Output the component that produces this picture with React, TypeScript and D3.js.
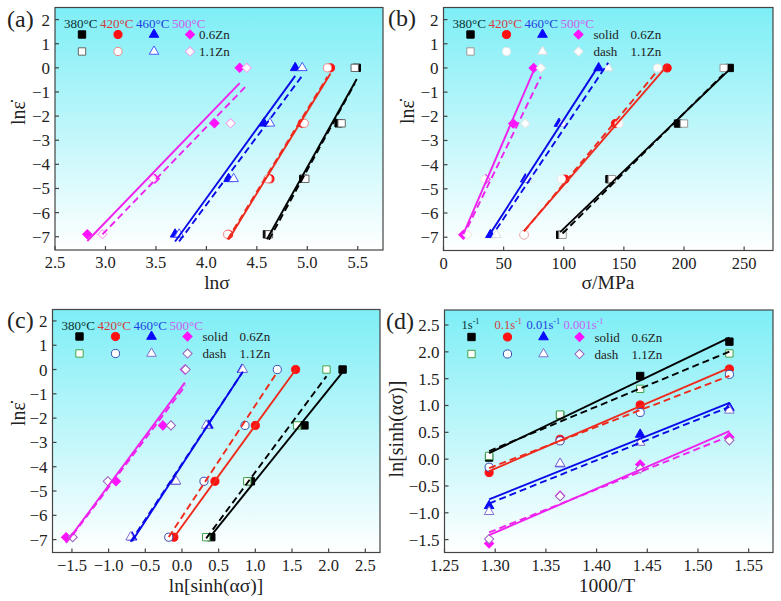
import * as d3 from 'd3'

const font = '"Liberation Serif", "Times New Roman", serif'

// ln(strain rate) levels: 1, 0.1, 0.01, 0.001 s^-1
const strainLn = [0, -2.3, -4.6, -6.9]
const tempLabels = ['380°C', '420°C', '460°C', '500°C']
const rateLabels = ['1', '0.1', '0.01', '0.001']
// 1000/T for 380, 420, 460, 500 °C
const invT = [1.531, 1.443, 1.364, 1.294]

// (a) lnσ, rows = temperature, cols = strain rate
const lnSigma06 = [
  [5.49, 5.31, 4.96, 4.6],
  [5.23, 4.95, 4.63, 4.22],
  [4.88, 4.57, 4.22, 3.69],
  [4.33, 4.08, 3.49, 2.82],
]
const lnSigma11 = [
  [5.47, 5.34, 4.98, 4.62],
  [5.2, 4.97, 4.61, 4.21],
  [4.95, 4.63, 4.27, 3.73],
  [4.4, 4.24, 3.47, 2.97],
]

// (b) σ / MPa
const sigma06 = [
  [238, 195, 138, 97],
  [186, 143, 101, 67],
  [129, 96, 68, 39],
  [75, 58, 35, 16.5],
]
const sigma11 = [
  [233, 200, 140, 99],
  [178, 146, 98, 67],
  [137, 99, 70, 44],
  [81, 68, 34, 20],
]

// (c) ln[sinh(ασ)]
const sinh06 = [
  [2.19, 1.67, 0.94, 0.4],
  [1.55, 1.0, 0.45, -0.11],
  [0.82, 0.36, -0.09, -0.68],
  [0.04, -0.26, -0.9, -1.58],
]
const sinh11 = [
  [1.97, 1.57, 0.89, 0.33],
  [1.3, 0.86, 0.3, -0.18],
  [0.83, 0.33, -0.08, -0.7],
  [0.05, -0.15, -1.01, -1.49],
]

// (d) ln[sinh(ασ)], rows = strain rate, cols = invT
const sinhD06 = [
  [2.19, 1.55, 0.82, 0.03],
  [1.68, 1.01, 0.37, -0.25],
  [0.96, 0.46, -0.09, -0.87],
  [0.41, -0.1, -0.68, -1.57],
]
const sinhD11 = [
  [1.97, 1.31, 0.83, 0.06],
  [1.58, 0.87, 0.34, -0.15],
  [0.91, 0.31, -0.08, -0.98],
  [0.35, -0.18, -0.69, -1.49],
]

const fillColors = ['#000000', '#ff1010', '#0a0aff', '#ff12ff']
const lineColors = ['#000000', '#ee2a1c', '#0a0ae8', '#ee22ee']
const headColors = ['#0b3030', '#d23c3c', '#1f3fe0', '#c95ef0']
const openA = ['#666666', '#f08a8a', '#4a5aff', '#f2a2f2']
const openB = ['#999999', '#e6e6e6', '#dddddd', '#e6e6e6']
const openCD = ['#3fa34a', '#3a4ab0', '#8070d0', '#9a60c0']

type Pt = [number, number]

function fitLine(pts: Pt[]): Pt[] {
  const mx = d3.mean(pts, p => p[0])!
  const my = d3.mean(pts, p => p[1])!
  const sxy = d3.sum(pts, p => (p[0] - mx) * (p[1] - my))
  const sxx = d3.sum(pts, p => (p[0] - mx) ** 2)
  const k = sxy / sxx
  const [x0, x1] = d3.extent(pts, p => p[0]) as [number, number]
  return [[x0, my + k * (x0 - mx)], [x1, my + k * (x1 - mx)]]
}

const symbols = [d3.symbolSquare, d3.symbolCircle, d3.symbolTriangle, d3.symbolSquare]
const symSize = [54, 52, 40, 42]

function Marker({ kind, x, y, fill, stroke }: { kind: number; x: number; y: number; fill: string; stroke: string }) {
  const d = d3.symbol().type(symbols[kind]).size(symSize[kind])()!
  const rot = kind === 3 ? ' rotate(45)' : ''
  return <path d={d} transform={`translate(${x},${y})${rot}`} fill={fill} stroke={stroke} strokeWidth={1} />
}

const minus = (s: string) => s.replace('-', '\u2212')

type Box = { l: number; r: number; t: number; b: number }

interface PanelProps {
  id: string
  box: Box
  xDomain: [number, number]
  yDomain: [number, number]
  xTicks: number[]
  yTicks: number[]
  xFmt: (v: number) => string
  yFmt: (v: number) => string
  solid: Pt[][]
  dash: Pt[][]
  openStroke: string[]
  label: string
  labelX: number
  labelY: number
  xTitle: string
  xTitleX: number
  xTitleY: number
  yTitle: string
  yTitleX: number
  yTitleY: number
  legend: 'a' | 'b' | 'd'
}

function Panel(p: PanelProps) {
  const { box } = p
  const x = d3.scaleLinear().domain(p.xDomain).range([box.l, box.r])
  const y = d3.scaleLinear().domain(p.yDomain).range([box.b, box.t])
  const line = d3.line<Pt>().x(d => x(d[0])).y(d => y(d[1]))
  const mx = [27, 63, 99, 135]
  const row1 = box.t + 27
  const row2 = box.t + 44
  const headX = p.legend === 'd' ? [17, 50, 82, 119] : [9, 45, 81, 117]
  const textX = p.legend === 'a' ? 144 : 150

  return (
    <g>
      <defs>
        <linearGradient id={`bg-${p.id}`} x1="0" y1="0" x2="0" y2="1">
          <stop offset="0%" stopColor="#7eeef6" />
          <stop offset="100%" stopColor="#ffffff" />
        </linearGradient>
        <clipPath id={`clip-${p.id}`}>
          <rect x={box.l} y={box.t} width={box.r - box.l} height={box.b - box.t} />
        </clipPath>
      </defs>
      <rect x={box.l} y={box.t} width={box.r - box.l} height={box.b - box.t} fill={`url(#bg-${p.id})`} />

      {/* legend */}
      {p.legend === 'd'
        ? rateLabels.map((r, i) => (
            <text key={r} x={box.l + headX[i]} y={box.t + 19} fontSize={12.5} fill={headColors[i]} fontFamily={font}>
              {r}s<tspan dy={-5} fontSize={8}>-1</tspan>
            </text>
          ))
        : tempLabels.map((t, i) => (
            <text key={t} x={box.l + headX[i]} y={box.t + 20} fontSize={13} fill={headColors[i]} fontFamily={font}>
              {t}
            </text>
          ))}
      {mx.map((dx, i) => (
        <g key={i}>
          <Marker kind={i} x={box.l + dx} y={row1} fill={fillColors[i]} stroke={fillColors[i]} />
          <Marker kind={i} x={box.l + dx} y={row2} fill="#ffffff" stroke={p.openStroke[i]} />
        </g>
      ))}
      {p.legend === 'a' ? (
        <g fontSize={13} fontFamily={font} fill="#222">
          <text x={box.l + textX} y={row1 + 4.5}>0.6Zn</text>
          <text x={box.l + textX} y={row2 + 4.5}>1.1Zn</text>
        </g>
      ) : (
        <g fontSize={13} fontFamily={font} fill="#222">
          <text x={box.l + textX} y={row1 + 4.5}>solid</text>
          <text x={box.l + textX} y={row2 + 4.5}>dash</text>
          <text x={box.l + 187} y={row1 + 4.5}>0.6Zn</text>
          <text x={box.l + 187} y={row2 + 4.5}>1.1Zn</text>
        </g>
      )}

      {/* data */}
      <g clipPath={`url(#clip-${p.id})`}>
        {p.solid.map((s, i) =>
          s.map((d, j) => <Marker key={`f${i}-${j}`} kind={i} x={x(d[0])} y={y(d[1])} fill={fillColors[i]} stroke={fillColors[i]} />)
        )}
        {p.dash.map((s, i) =>
          s.map((d, j) => <Marker key={`o${i}-${j}`} kind={i} x={x(d[0])} y={y(d[1])} fill="#ffffff" stroke={p.openStroke[i]} />)
        )}
        {p.solid.map((s, i) => (
          <path key={`ls${i}`} d={line(fitLine(s))!} fill="none" stroke={lineColors[i]} strokeWidth={1.9} />
        ))}
        {p.dash.map((s, i) => (
          <path key={`ld${i}`} d={line(fitLine(s))!} fill="none" stroke={lineColors[i]} strokeWidth={1.9} strokeDasharray="7,4" />
        ))}
      </g>

      {/* axes */}
      <rect x={box.l} y={box.t} width={box.r - box.l} height={box.b - box.t} fill="none" stroke="#444" strokeWidth={1.2} />
      {p.xTicks.map(v => (
        <g key={`x${v}`}>
          <line x1={x(v)} x2={x(v)} y1={box.b} y2={box.b - 4} stroke="#444" strokeWidth={1.2} />
          <text x={x(v)} y={box.b + 18} fontSize={16.5} textAnchor="middle" fontFamily={font} fill="#222">
            {p.xFmt(v)}
          </text>
        </g>
      ))}
      {p.yTicks.map(v => (
        <g key={`y${v}`}>
          <line x1={box.l} x2={box.l + 4} y1={y(v)} y2={y(v)} stroke="#444" strokeWidth={1.2} />
          <text x={box.l - 5} y={y(v) + 6} fontSize={17} textAnchor="end" fontFamily={font} fill="#222">
            {p.yFmt(v)}
          </text>
        </g>
      ))}
      <text x={p.labelX} y={p.labelY} fontSize={24} fontFamily={font} fill="#222">{p.label}</text>
      <text x={p.xTitleX} y={p.xTitleY} fontSize={19.5} textAnchor="middle" fontFamily={font} fill="#222">{p.xTitle}</text>
      <text
        transform={`translate(${p.yTitleX},${p.yTitleY}) rotate(-90)`}
        fontSize={20}
        textAnchor="middle"
        fontFamily={font}
        fill="#222"
      >
        {p.yTitle}
      </text>
    </g>
  )
}

const byStrain = (rows: number[][]): Pt[][] => rows.map(r => r.map((v, j) => [v, strainLn[j]] as Pt))
const byInvT = (rows: number[][]): Pt[][] => rows.map(r => r.map((v, j) => [invT[j], v] as Pt))

export default function App() {
  const lnE = 'ln\u03b5\u0307'
  const yT = d3.range(-7, 3, 1)
  const intFmt = (v: number) => minus(String(v))
  const f1 = (v: number) => minus(v.toFixed(1))
  const f2 = (v: number) => v.toFixed(2)

  return (
    <svg width={781} height={601} style={{ display: 'block', position: 'absolute', left: 0, top: 0 }}>
      <rect width={781} height={601} fill="#ffffff" />
      <Panel
        id="a"
        box={{ l: 55, r: 383, t: 7.5, b: 250 }}
        xDomain={[2.5, 5.75]}
        yDomain={[-7.55, 2.5]}
        xTicks={d3.range(2.5, 5.51, 0.5)}
        yTicks={yT}
        xFmt={f1}
        yFmt={intFmt}
        solid={byStrain(lnSigma06)}
        dash={byStrain(lnSigma11)}
        openStroke={openA}
        label="(a)"
        labelX={7}
        labelY={27}
        xTitle="lnσ"
        xTitleX={217}
        xTitleY={289}
        yTitle={lnE}
        yTitleX={25}
        yTitleY={113}
        legend="a"
      />
      <Panel
        id="b"
        box={{ l: 443.5, r: 773, t: 7.5, b: 250.5 }}
        xDomain={[0, 274]}
        yDomain={[-7.55, 2.5]}
        xTicks={d3.range(0, 251, 50)}
        yTicks={yT}
        xFmt={v => String(v)}
        yFmt={intFmt}
        solid={byStrain(sigma06)}
        dash={byStrain(sigma11)}
        openStroke={openB}
        label="(b)"
        labelX={388}
        labelY={26}
        xTitle="σ/MPa"
        xTitleX={608}
        xTitleY={289}
        yTitle={lnE}
        yTitleX={414}
        yTitleY={112}
        legend="b"
      />
      <Panel
        id="c"
        box={{ l: 52.5, r: 380, t: 309.5, b: 552.5 }}
        xDomain={[-1.765, 2.7]}
        yDomain={[-7.53, 2.47]}
        xTicks={d3.range(-1.5, 2.51, 0.5)}
        yTicks={yT}
        xFmt={f1}
        yFmt={intFmt}
        solid={byStrain(sinh06)}
        dash={byStrain(sinh11)}
        openStroke={openCD}
        label="(c)"
        labelX={7}
        labelY={328}
        xTitle="ln[sinh(ασ)]"
        xTitleX={216}
        xTitleY={592}
        yTitle={lnE}
        yTitleX={25}
        yTitleY={414}
        legend="b"
      />
      <Panel
        id="d"
        box={{ l: 444.5, r: 773, t: 310, b: 552.5 }}
        xDomain={[1.25, 1.574]}
        yDomain={[-1.74, 2.78]}
        xTicks={d3.range(1.25, 1.551, 0.05)}
        yTicks={d3.range(-1.5, 2.51, 0.5)}
        xFmt={f2}
        yFmt={f1}
        solid={byInvT(sinhD06)}
        dash={byInvT(sinhD11)}
        openStroke={openCD}
        label="(d)"
        labelX={386}
        labelY={329}
        xTitle="1000/T"
        xTitleX={607}
        xTitleY={592}
        yTitle="ln[sinh(ασ)]"
        yTitleX={403}
        yTitleY={429}
        legend="d"
      />
    </svg>
  )
}
